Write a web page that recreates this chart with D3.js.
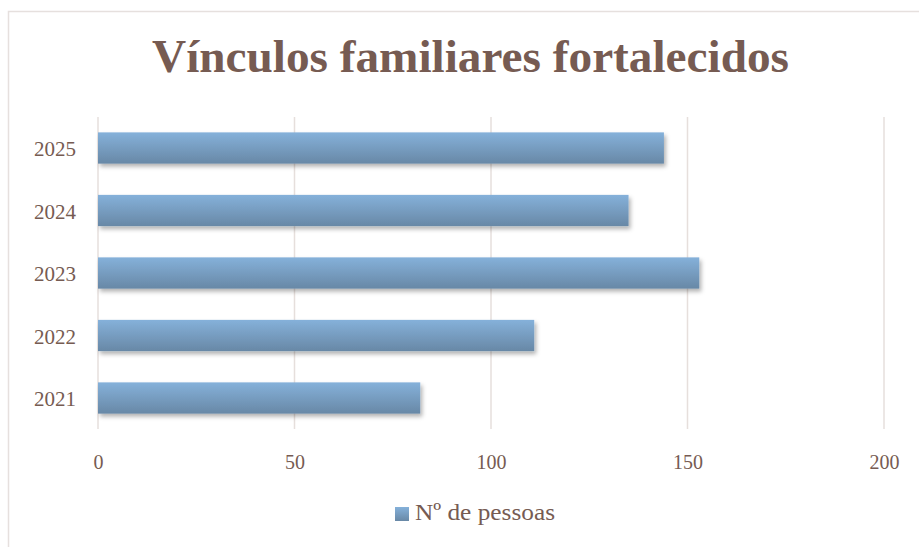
<!DOCTYPE html>
<html>
<head>
<meta charset="utf-8">
<script src="https://cdn.jsdelivr.net/npm/d3@7"></script>
<style>
  html, body { margin: 0; padding: 0; background: #ffffff; }
  svg { display: block; }
</style>
</head>
<body>
<svg id="chart" width="919" height="547"></svg>
<script>
const titleText = "Vínculos familiares fortalecidos";
const categories = ["2021", "2022", "2023", "2024", "2025"];
const values = [82, 111, 153, 135, 144];
const xTicks = [0, 50, 100, 150, 200];
const seriesName = "Nº de pessoas";

const W = 919, H = 547;
const brown = "#765B52";
const gridColor = "#E6DFDC";
const svg = d3.select("#chart");

const defs = svg.append("defs");
const grad = defs.append("linearGradient").attr("id", "barGrad")
  .attr("x1", 0).attr("y1", 0).attr("x2", 0).attr("y2", 1);
grad.append("stop").attr("offset", "0%").attr("stop-color", "#85B1DA");
grad.append("stop").attr("offset", "100%").attr("stop-color", "#6888A6");
const sh = defs.append("filter").attr("id", "shadow")
  .attr("x", "-5%").attr("y", "-30%").attr("width", "115%").attr("height", "170%");
sh.append("feDropShadow").attr("dx", 2).attr("dy", 3).attr("stdDeviation", 2)
  .attr("flood-color", "#000").attr("flood-opacity", 0.3);

// chart frame
svg.append("path")
  .attr("d", `M8.5,${H + 2} L8.5,11.5 L${W + 2},11.5`)
  .attr("fill", "none").attr("stroke", "#E6E0DE").attr("stroke-width", 1.5);

const x = d3.scaleLinear().domain([0, 200]).range([98, 884]);
const y = d3.scaleBand().domain(categories.slice().reverse())
  .range([116.75, 429.25]).paddingInner(0.5).paddingOuter(0.25);

// gridlines
svg.append("g").selectAll("line").data(xTicks).join("line")
  .attr("x1", d => x(d)).attr("x2", d => x(d))
  .attr("y1", 117).attr("y2", 429)
  .attr("stroke", gridColor).attr("stroke-width", 1.5);

// bars
svg.append("g").selectAll("rect").data(categories).join("rect")
  .attr("x", x(0))
  .attr("y", d => y(d))
  .attr("width", (d, i) => x(values[i]) - x(0))
  .attr("height", y.bandwidth())
  .attr("fill", "url(#barGrad)")
  .attr("filter", "url(#shadow)");

// x axis labels
const xAxis = svg.append("g").attr("transform", "translate(0,450)")
  .call(d3.axisBottom(x).tickValues(xTicks).tickSize(0).tickPadding(0).tickFormat(d3.format("d")));
xAxis.select(".domain").remove();
xAxis.selectAll("text")
  .attr("y", 19).attr("dy", null)
  .attr("font-family", "'Liberation Serif', serif")
  .attr("font-size", 20).attr("fill", brown);

// y axis labels
const yAxis = svg.append("g").attr("transform", "translate(76,0)")
  .call(d3.axisLeft(y).tickSize(0).tickPadding(0));
yAxis.select(".domain").remove();
yAxis.selectAll("text")
  .attr("dy", "0.4em")
  .attr("font-family", "'Liberation Serif', serif")
  .attr("font-size", 21).attr("fill", brown);

// title
svg.append("text")
  .attr("x", 152).attr("y", 72)
  .attr("font-family", "'Liberation Serif', serif")
  .attr("font-weight", "bold").attr("font-size", 46)
  .attr("fill", brown)
  .attr("textLength", 637).attr("lengthAdjust", "spacingAndGlyphs")
  .text(titleText);

// legend
const lg = svg.append("g");
lg.append("rect").attr("x", 395).attr("y", 507).attr("width", 14).attr("height", 14)
  .attr("fill", "url(#barGrad)");
lg.append("text").attr("x", 415).attr("y", 520)
  .attr("font-family", "'Liberation Serif', serif")
  .attr("font-size", 24).attr("fill", brown)
  .attr("textLength", 140).attr("lengthAdjust", "spacingAndGlyphs")
  .text(seriesName);
</script>
</body>
</html>
